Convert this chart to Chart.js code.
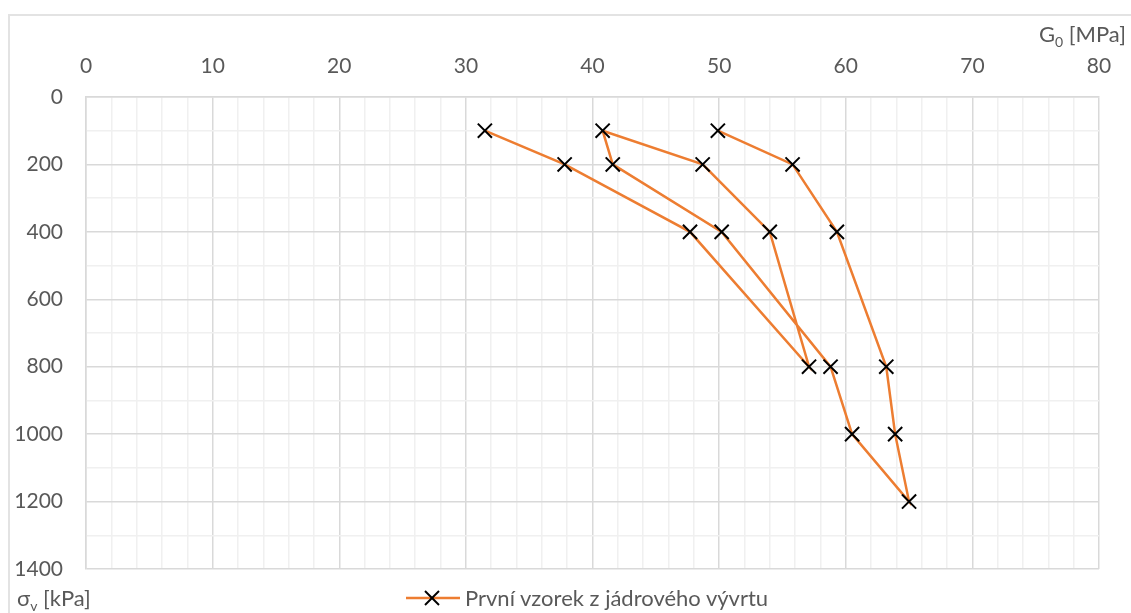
<!DOCTYPE html>
<html>
<head>
<meta charset="utf-8">
<script src="https://cdn.jsdelivr.net/npm/chart.js@4/dist/chart.umd.min.js"></script>
<style>
  body { margin: 0; background: #fff; }
  #wrap { position: relative; width: 1131px; height: 613px; overflow: hidden; font-family: Lato, "Open Sans", sans-serif; color: #595959; }
  #frame { position: absolute; left: 8px; top: 14px; width: 1300px; height: 800px; border: 2px solid #e3e3e3; }
  canvas { position: absolute; left: 0; top: 0; }
  .lbl { position: absolute; font-size: 22px; white-space: nowrap; line-height: 26px; }
  .lbl sub { font-size: 14px; vertical-align: -5px; }
  #legend { position: absolute; left: 406px; top: 585px; font-size: 22px; line-height: 26px; display: flex; align-items: center; white-space: nowrap; }
  #legend svg { margin-right: 5px; }
</style>
</head>
<body>
<div id="wrap">
  <div id="frame"></div>
  <canvas id="c" width="1131" height="613"></canvas>
  <div class="lbl" style="left:1039px; top:21px;">G<sub>0</sub> [MPa]</div>
  <div class="lbl" style="left:17px; top:585px;">σ<sub>v</sub> [kPa]</div>
  <div id="legend"></div>
</div>
<script>
// vertical stress sequence (load / unload / reload), kPa
const stressKPa = [100, 200, 400, 800, 400, 200, 100, 200, 400, 800, 1000, 1200, 1000, 800, 400, 200, 100];
// small-strain shear modulus read for each step, MPa
const g0MPa = [31.5, 37.8, 47.7, 57.1, 54.0, 48.7, 40.8, 41.6, 50.2, 58.8, 60.5, 65.0, 63.9, 63.2, 59.3, 55.8, 49.9];
const seriesName = 'První vzorek z jádrového vývrtu';

const lineColor = '#ED7D31';
const majorGrid = '#d9d9d9';
const minorGrid = '#f0f0f0';

const points = g0MPa.map((g, i) => ({ x: g, y: stressKPa[i] }));

new Chart(document.getElementById('c'), {
  type: 'scatter',
  data: {
    datasets: [{
      label: seriesName,
      data: points,
      showLine: true,
      borderColor: lineColor,
      borderWidth: 2.5,
      tension: 0,
      pointStyle: 'crossRot',
      pointRadius: 10,
      pointHoverRadius: 10,
      pointBorderColor: '#000',
      pointBorderWidth: 2
    }]
  },
  options: {
    responsive: false,
    animation: false,
    layout: { padding: { left: 0, top: 0, right: 32, bottom: 44 } },
    plugins: { legend: { display: false }, tooltip: { enabled: false } },
    scales: {
      x: {
        type: 'linear',
        position: 'top',
        min: 0,
        max: 80,
        afterFit: (s) => { s.height = 97; },
        ticks: {
          stepSize: 2,
          autoSkip: false,
          maxRotation: 0,
          padding: 18,
          color: '#595959',
          font: { family: 'Lato', size: 21 },
          callback: (v) => (v % 10 === 0 ? v : '')
        },
        grid: {
          drawTicks: false,
          color: (ctx) => (ctx.tick && ctx.tick.value % 10 === 0 ? majorGrid : minorGrid),
          lineWidth: 1.5
        },
        border: { color: majorGrid, width: 1.5 }
      },
      y: {
        type: 'linear',
        reverse: true,
        min: 0,
        max: 1400,
        afterFit: (s) => { s.width = 86; },
        ticks: {
          stepSize: 100,
          autoSkip: false,
          padding: 23,
          color: '#595959',
          font: { family: 'Lato', size: 21 },
          callback: (v) => (v % 200 === 0 ? v : '')
        },
        grid: {
          drawTicks: false,
          color: (ctx) => (ctx.tick && ctx.tick.value % 200 === 0 ? majorGrid : minorGrid),
          lineWidth: 1.5
        },
        border: { color: majorGrid, width: 1.5 }
      }
    }
  }
});

// legend: orange line with black cross, then series name
document.getElementById('legend').innerHTML =
  '<svg width="54" height="20"><line x1="0" y1="10" x2="54" y2="10" stroke="' + lineColor + '" stroke-width="2.5"/>' +
  '<line x1="19" y1="3" x2="33" y2="17" stroke="#000" stroke-width="2"/>' +
  '<line x1="33" y1="3" x2="19" y2="17" stroke="#000" stroke-width="2"/></svg>' +
  '<span>' + seriesName + '</span>';
</script>
</body>
</html>
